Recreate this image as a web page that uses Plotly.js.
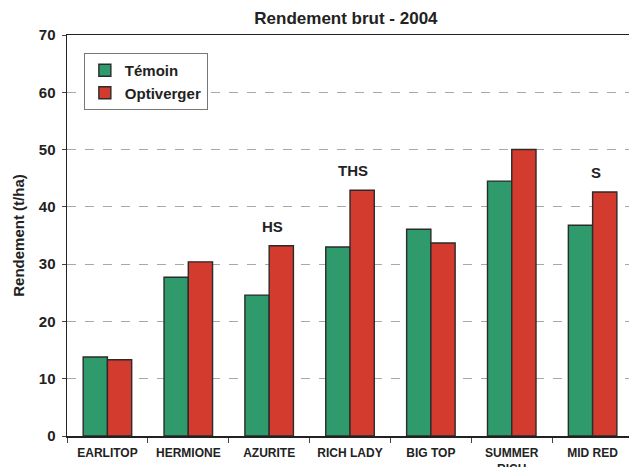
<!DOCTYPE html>
<html>
<head>
<meta charset="utf-8">
<script src="https://cdn.plot.ly/plotly-3.0.1.min.js"></script>
<style>html,body{margin:0;padding:0;background:#fff;}#chart{width:629px;height:467px;}</style>
</head>
<body>
<div id="chart"></div>
<script>
const categories = ["EARLITOP", "HERMIONE", "AZURITE", "RICH LADY", "BIG TOP", "SUMMER<br>RICH", "MID RED"];
const temoin = [13.8, 27.7, 24.6, 33.0, 36.1, 44.5, 36.8];
const optiverger = [13.3, 30.4, 33.2, 42.9, 33.7, 50.0, 42.6];
const signif = ["", "", "HS", "THS", "", "", "S"];
const yTicks = [0, 10, 20, 30, 40, 50, 60, 70];

const annotations = [];
signif.forEach((s, i) => {
  if (s) {
    annotations.push({
      x: categories[i], y: Math.max(temoin[i], optiverger[i]),
      text: s, showarrow: false, yanchor: 'bottom', xshift: 3, yshift: 9,
      font: {family: 'Liberation Sans, Arial', size: 15, color: '#222', weight: 'bold'}
    });
  }
});

const data = [
  {type: 'bar', name: 'Témoin', x: categories, y: temoin,
   marker: {color: '#2f9a6c', line: {color: '#2b2b2b', width: 1.4}}},
  {type: 'bar', name: 'Optiverger', x: categories, y: optiverger,
   marker: {color: '#d43b2f', line: {color: '#2b2b2b', width: 1.4}}}
];

const layout = {
  width: 629, height: 467,
  margin: {l: 67, r: 0, t: 35, b: 31},
  paper_bgcolor: '#fff', plot_bgcolor: '#fff',
  barmode: 'group', bargap: 0.4, bargroupgap: 0,
  title: {text: '<b>Rendement brut - 2004</b>', x: 0.55, xanchor: 'center', y: 0.962, yanchor: 'middle',
          font: {family: 'Liberation Sans, Arial', size: 17, color: '#222'}},
  font: {family: 'Liberation Sans, Arial', color: '#222'},
  xaxis: {
    range: [-0.5, 6.45], showline: true, linecolor: '#222', linewidth: 1.5, mirror: true,
    ticks: 'outside', tickson: 'boundaries', ticklen: 5, tickcolor: '#444',
    ticklabelstandoff: 5,
    tickfont: {family: 'Liberation Sans Narrow, Liberation Sans, Arial', size: 12, color: '#222', weight: 'bold'},
    showgrid: false, fixedrange: true
  },
  yaxis: {
    range: [0, 70], tickvals: yTicks, ticktext: yTicks.map(String),
    showline: true, linecolor: '#222', linewidth: 1.5,
    ticks: 'outside', ticklen: 4, tickcolor: '#444', ticklabelstandoff: 3,
    tickfont: {family: 'Liberation Sans, Arial', size: 15, color: '#222', weight: 'bold'},
    showgrid: true, gridcolor: '#a8a8a8', griddash: 'dash', gridwidth: 1,
    zeroline: false,
    title: {text: '<b>Rendement (t/ha)</b>', standoff: 10,
            font: {family: 'Liberation Sans, Arial', size: 15, color: '#222'}}
  },
  legend: {
    x: 0.03, y: 0.955, xanchor: 'left', yanchor: 'top',
    bgcolor: '#fff', bordercolor: '#777', borderwidth: 1,
    font: {family: 'Liberation Sans, Arial', size: 15, color: '#222', weight: 'bold'},
    tracegroupgap: 0, itemwidth: 30
  },
  annotations: annotations,
  showlegend: true
};

Plotly.newPlot('chart', data, layout, {staticPlot: true, displayModeBar: false});
</script>
</body>
</html>
